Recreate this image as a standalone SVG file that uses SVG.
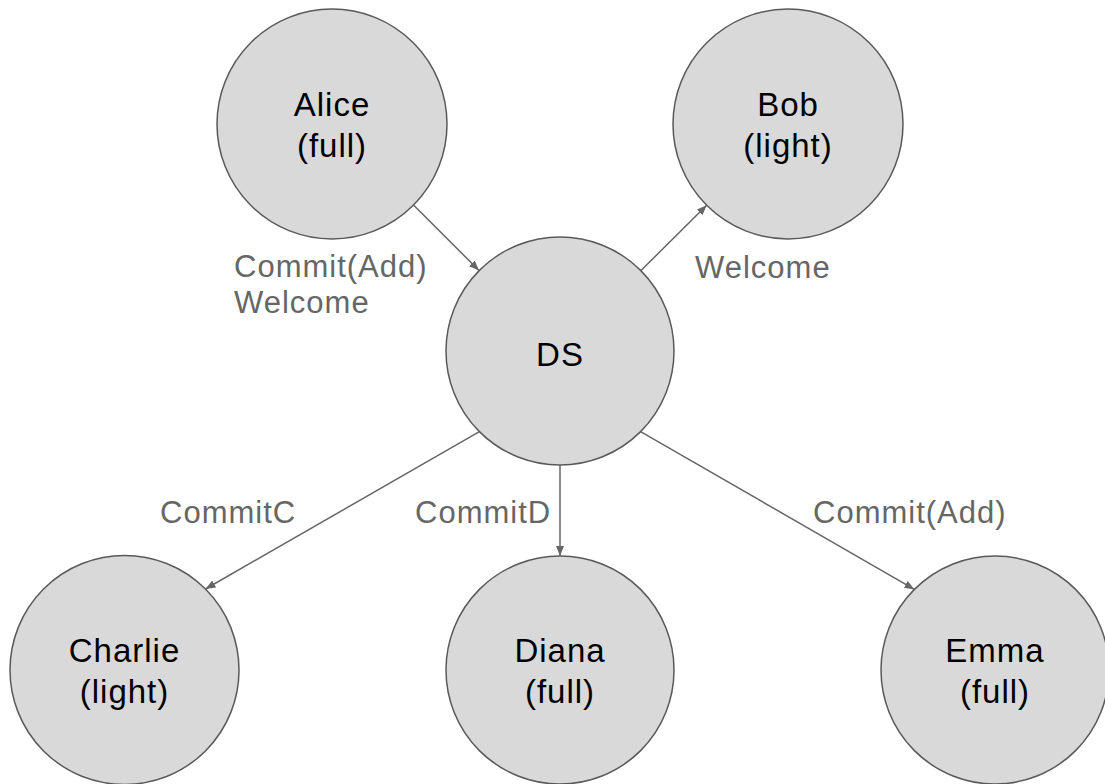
<svg xmlns="http://www.w3.org/2000/svg" width="1105" height="784" viewBox="0 0 1105 784">
<style>
.node circle{fill:#d9d9d9;stroke:#595959;stroke-width:1.5}
.node text{font-family:"Liberation Sans",Arial,sans-serif;font-size:33px;letter-spacing:1px;fill:#000;text-anchor:middle}
.edge line{stroke:#666;stroke-width:1.5;fill:none;marker-end:url(#arr)}
.lbl{font-family:"Liberation Sans",Arial,sans-serif;font-size:31px;letter-spacing:1px;fill:#666}
</style>
<defs>
<marker id="arr" markerUnits="userSpaceOnUse" markerWidth="11" markerHeight="9" refX="10" refY="4" orient="auto">
<path d="M0,0 L10,4 L0,8 z" fill="#666"/>
</marker>
</defs>
<rect width="1105" height="784" fill="#fff"/>
<g id="connectors" class="edge">
<line x1="413.5" y1="205" x2="479" y2="270.5"/>
<line x1="641" y1="270.5" x2="706.7" y2="205.3"/>
<line x1="479.4" y1="431.6" x2="205.5" y2="589"/>
<line x1="560" y1="465" x2="560" y2="556"/>
<line x1="640.6" y1="431.6" x2="914.4" y2="589.4"/>
</g>
<g id="labels">
<text class="lbl" x="234" y="277">Commit(Add)</text>
<text class="lbl" x="234" y="313">Welcome</text>
<text class="lbl" x="695" y="278">Welcome</text>
<text class="lbl" x="160" y="523">CommitC</text>
<text class="lbl" x="415" y="523">CommitD</text>
<text class="lbl" x="813" y="523">Commit(Add)</text>
</g>
<g id="alice" class="node"><circle cx="332" cy="124" r="115"/><text x="332" y="116">Alice</text><text x="332" y="157">(full)</text></g>
<g id="bob" class="node"><circle cx="788" cy="124" r="115"/><text x="788" y="116">Bob</text><text x="788" y="157">(light)</text></g>
<g id="ds" class="node"><circle cx="560" cy="351" r="114"/><text x="560" y="366">DS</text></g>
<g id="charlie" class="node"><circle cx="124.5" cy="670" r="114.5"/><text x="124.5" y="662">Charlie</text><text x="124.5" y="703">(light)</text></g>
<g id="diana" class="node"><circle cx="560" cy="670" r="114"/><text x="560" y="662">Diana</text><text x="560" y="703">(full)</text></g>
<g id="emma" class="node"><circle cx="995" cy="670" r="114"/><text x="995" y="662">Emma</text><text x="995" y="703">(full)</text></g>
</svg>
